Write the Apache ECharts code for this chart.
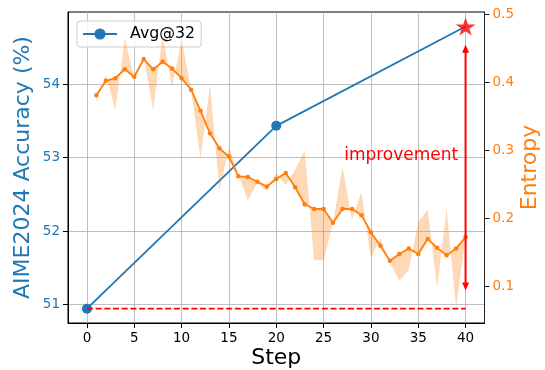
<!DOCTYPE html>
<html><head><meta charset="utf-8">
<script src="https://cdn.jsdelivr.net/npm/echarts@6/dist/echarts.min.js"></script>
<style>html,body{margin:0;padding:0;background:#fff}#c{width:545px;height:370px}</style>
</head><body><div id="c"></div>
<script>
// ---- data ----
const steps = [1,2,3,4,5,6,7,8,9,10,11,12,13,14,15,16,17,18,19,20,21,22,23,24,25,26,27,28,29,30,31,32,33,34,35,36,37,38,39,40];
const entropy = [0.381,0.402,0.406,0.419,0.408,0.434,0.419,0.430,0.420,0.406,
                 0.389,0.358,0.325,0.303,0.291,0.262,0.261,0.254,0.247,0.258,
                 0.267,0.246,0.221,0.214,0.214,0.194,0.214,0.214,0.205,0.180,
                 0.160,0.138,0.148,0.156,0.148,0.170,0.157,0.146,0.156,0.173];
const entropyRaw = [0.372,0.411,0.359,0.464,0.405,0.438,0.359,0.469,0.393,0.463,
                    0.389,0.288,0.396,0.241,0.305,0.265,0.227,0.252,0.240,0.267,
                    0.249,0.272,0.300,0.139,0.139,0.194,0.276,0.198,0.239,0.142,
                    0.171,0.135,0.109,0.125,0.195,0.213,0.098,0.214,0.068,0.173];
const accSteps = [0, 20, 40];
const accuracy = [50.94, 53.435, 54.79];
const xTicks = [0,5,10,15,20,25,30,35,40];
const accTicks = [51,52,53,54];
const entTicks = [0.1,0.2,0.3,0.4,0.5];
const baselineAcc = 50.94;
const arrowStep = 40;
const arrowTips = [51.19, 54.54];
const labelPos = [33.2, 53.03];
const labelText = 'improvement';

// ---- chart ----
const FF = 'DejaVu Sans';
const BLUE = '#1f77b4', ORANGE = '#ff7f0e';
const chart = echarts.init(document.getElementById('c'), null, {renderer:'canvas'});

const accData = accSteps.map((s,i) => i === accSteps.length-1 ? {value:[s, accuracy[i]], symbol:'none'} : [s, accuracy[i]]);

const option = {
  animation: false,
  backgroundColor: '#fff',
  textStyle: {fontFamily: FF},
  grid: {left:68, top:12, width:416.5, height:311, containLabel:false, outerBoundsMode:'none',
         show:true, borderColor:'#000', borderWidth:1, backgroundColor:'transparent'},
  legend: {
    data:['Avg@32'], left:77, top:21, itemWidth:34, itemHeight:14,
    padding:[5,6,5,5], borderColor:'#cccccc', borderWidth:1, borderRadius:3,
    backgroundColor:'rgba(255,255,255,0.8)', z:1,
    textStyle:{fontSize:15.8, color:'#000', fontFamily:FF, padding:[0,0,0,8]}
  },
  xAxis: {
    type:'value', min:-2, max:42,
    name:'Step', nameLocation:'middle', nameGap:24, nameMoveOverlap:false,
    nameTextStyle:{color:'#000', fontSize:22, fontFamily:FF, verticalAlign:'top'},
    axisLine:{show:true, onZero:false, lineStyle:{color:'#000', width:1}},
    axisTick:{show:true, length:5, customValues:xTicks, lineStyle:{color:'#000'}},
    axisLabel:{customValues:xTicks, color:'#000', fontSize:13.5, margin:8, fontFamily:FF},
    splitLine:{show:true, lineStyle:{color:'#b0b0b0', width:0.8}}
  },
  yAxis: [{
    type:'value', min:50.745, max:54.988, position:'left',
    name:'AIME2024 Accuracy (%)', nameLocation:'middle', nameGap:34, nameRotate:90, nameMoveOverlap:false,
    nameTextStyle:{color:BLUE, fontSize:22, fontFamily:FF},
    axisLine:{show:true, onZero:false, lineStyle:{color:'#000', width:1}},
    axisTick:{show:true, length:5, customValues:accTicks, lineStyle:{color:'#000'}},
    axisLabel:{customValues:accTicks, color:BLUE, fontSize:13.5, margin:8, fontFamily:FF},
    splitLine:{show:true, lineStyle:{color:'#b0b0b0', width:0.8}}
  },{
    type:'value', min:0.0468, max:0.503, position:'right',
    name:'Entropy', nameLocation:'middle', nameGap:35, nameRotate:90, nameMoveOverlap:false,
    nameTextStyle:{color:ORANGE, fontSize:22, fontFamily:FF},
    axisLine:{show:true, onZero:false, lineStyle:{color:'#222', width:1}},
    axisTick:{show:true, length:5, customValues:entTicks, lineStyle:{color:'#222'}},
    axisLabel:{customValues:entTicks, color:ORANGE, fontSize:13.5, margin:8, fontFamily:FF},
    splitLine:{show:false}
  }],
  series: [
    {
      name:'Avg@32', type:'line', xAxisIndex:0, yAxisIndex:0, z:2,
      data: accData, symbol:'circle', symbolSize:10, showSymbol:true,
      itemStyle:{color:BLUE}, lineStyle:{color:BLUE, width:1.8}
    },
    {
      name:'band', type:'custom', xAxisIndex:0, yAxisIndex:1, z:3, silent:true,
      data:[[20, 0.3]],
      renderItem: (params, api) => {
        const pts = [];
        steps.forEach((s,i) => pts.push(api.coord([s, entropy[i]])));
        for (let i = steps.length-1; i >= 0; i--) pts.push(api.coord([steps[i], entropyRaw[i]]));
        return {type:'polygon', shape:{points:pts}, style:{fill:'rgba(255,127,14,0.3)', stroke:null}};
      }
    },
    {
      name:'Entropy', type:'line', xAxisIndex:0, yAxisIndex:1, z:4,
      data: steps.map((s,i) => [s, entropy[i]]), symbol:'circle', symbolSize:4.5,
      itemStyle:{color:ORANGE}, lineStyle:{color:ORANGE, width:1.8}
    },
    {
      name:'baseline', type:'line', xAxisIndex:0, yAxisIndex:0, z:5,
      data: [[0, baselineAcc],[arrowStep, baselineAcc]], symbol:'none',
      lineStyle:{color:'#ff0000', width:1.8, type:[6,2.7]}
    },
    {
      name:'arrow', type:'custom', xAxisIndex:0, yAxisIndex:0, z:6, silent:true,
      data:[[arrowStep, arrowTips[0]]],
      renderItem: (params, api) => {
        const top = api.coord([arrowStep, arrowTips[1]]);
        const bot = api.coord([arrowStep, arrowTips[0]]);
        const txt = api.coord(labelPos);
        const hl = 8, hw = 3.5;
        return {type:'group', children:[
          {type:'line', shape:{x1:top[0], y1:top[1]+hl-1, x2:bot[0], y2:bot[1]-hl+1}, style:{stroke:'#ff0000', lineWidth:2}},
          {type:'polygon', shape:{points:[[top[0],top[1]],[top[0]-hw,top[1]+hl],[top[0]+hw,top[1]+hl]]}, style:{fill:'#ff0000'}},
          {type:'polygon', shape:{points:[[bot[0],bot[1]],[bot[0]-hw,bot[1]-hl],[bot[0]+hw,bot[1]-hl]]}, style:{fill:'#ff0000'}},
          {type:'text', x:txt[0], y:txt[1], style:{text:labelText, fill:'#ff0000', font:'17px "DejaVu Sans"', align:'center', verticalAlign:'middle'}}
        ]};
      }
    },
    {
      name:'star', type:'scatter', xAxisIndex:0, yAxisIndex:0, z:7,
      data: [[accSteps[2], accuracy[2]]],
      symbol:'path://M50 0 L61.23 34.55 L97.55 34.55 L68.17 55.9 L79.39 90.45 L50 69.1 L20.61 90.45 L31.83 55.9 L2.45 34.55 L38.77 34.55 Z',
      symbolSize:[20,18], itemStyle:{color:'#ff0000'}
    }
  ]
};
chart.setOption(option);
</script>
</body></html>
